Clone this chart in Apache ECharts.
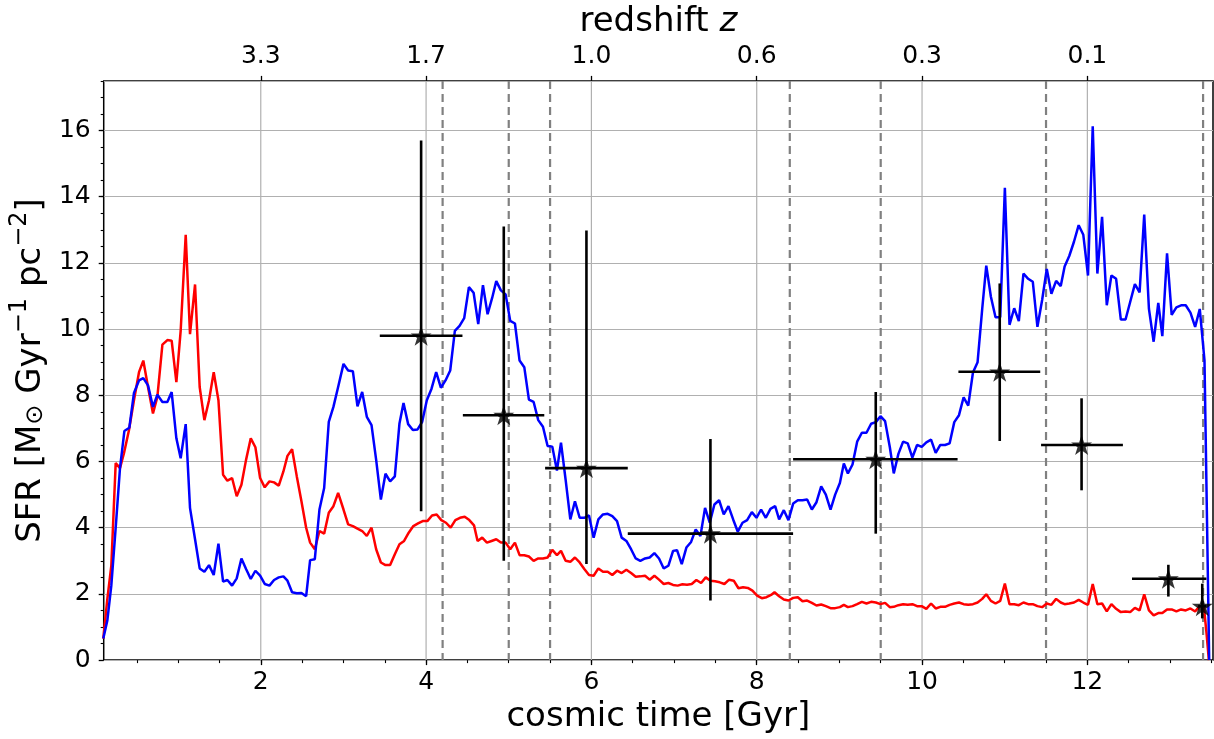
<!DOCTYPE html>
<html>
<head>
<meta charset="utf-8">
<script src="https://cdn.jsdelivr.net/npm/echarts@6/dist/echarts.min.js"></script>
<style>
html, body { margin: 0; padding: 0; background: #fff; }
#main { width: 1214px; height: 739px; }
</style>
</head>
<body>
<div id="main"></div>
<script>
var timeMin = 0.1, timeMax = 13.52;
var sfrMax = 17.5;

var timeTicks = [2, 4, 6, 8, 10, 12];
var redshiftLabels = ['3.3', '1.7', '1.0', '0.6', '0.3', '0.1'];
var snapshotLines = [4.2, 5.0, 5.5, 8.4, 9.5, 11.5, 13.4];

// blue run: [time Gyr, SFR]
var blueSfr = [
	[0.095, 0.65], [0.144, 1.2], [0.192, 2.25], [0.245, 4.0], [0.297, 5.8], [0.35, 6.92],
	[0.41, 7.02], [0.466, 8.07], [0.527, 8.45], [0.579, 8.52], [0.636, 8.3], [0.696, 7.65],
	[0.749, 8.02], [0.81, 7.8], [0.87, 7.8], [0.922, 8.1], [0.979, 6.7], [1.031, 6.1],
	[1.092, 7.13], [1.144, 4.6], [1.205, 3.65], [1.261, 2.77], [1.318, 2.67], [1.374, 2.87],
	[1.431, 2.57], [1.488, 3.52], [1.544, 2.37], [1.596, 2.42], [1.653, 2.25], [1.709, 2.47],
	[1.766, 3.07], [1.822, 2.75], [1.879, 2.45], [1.935, 2.7], [1.992, 2.55], [2.048, 2.3],
	[2.105, 2.25], [2.161, 2.42], [2.218, 2.5], [2.274, 2.53], [2.323, 2.4], [2.379, 2.05],
	[2.436, 2.02], [2.492, 2.03], [2.549, 1.93], [2.597, 3.02], [2.654, 3.05], [2.71, 4.55],
	[2.767, 5.2], [2.823, 7.2], [2.879, 7.65], [2.936, 8.25], [3.001, 8.95], [3.057, 8.75],
	[3.114, 8.73], [3.17, 7.67], [3.227, 8.1], [3.283, 7.35], [3.34, 7.1], [3.396, 6.05],
	[3.453, 4.85], [3.509, 5.63], [3.565, 5.4], [3.622, 5.55], [3.678, 7.15], [3.727, 7.77],
	[3.783, 7.13], [3.84, 6.95], [3.897, 6.97], [3.953, 7.2], [4.009, 7.85], [4.066, 8.2],
	[4.122, 8.7], [4.179, 8.23], [4.235, 8.45], [4.292, 8.75], [4.348, 9.95], [4.405, 10.1],
	[4.461, 10.33], [4.518, 11.27], [4.575, 11.1], [4.631, 10.15], [4.688, 11.33], [4.744, 10.45],
	[4.8, 10.95], [4.849, 11.45], [4.905, 11.17], [4.962, 11.05], [5.018, 10.25], [5.075, 10.17],
	[5.131, 9.05], [5.188, 8.85], [5.244, 7.87], [5.301, 7.8], [5.357, 7.25], [5.414, 7.05],
	[5.47, 6.47], [5.527, 6.45], [5.583, 5.73], [5.632, 6.57], [5.688, 5.45], [5.745, 4.25],
	[5.801, 4.8], [5.858, 4.3], [5.914, 4.3], [5.971, 4.37], [6.027, 3.7], [6.084, 4.25],
	[6.14, 4.4], [6.197, 4.42], [6.253, 4.35], [6.31, 4.2], [6.366, 3.7], [6.423, 3.6],
	[6.48, 3.35], [6.536, 3.07], [6.592, 3.0], [6.649, 3.07], [6.705, 3.1], [6.762, 3.23],
	[6.818, 3.07], [6.875, 2.77], [6.931, 2.85], [6.988, 3.3], [7.036, 3.32], [7.093, 2.9],
	[7.149, 3.4], [7.206, 3.57], [7.262, 3.95], [7.319, 3.75], [7.375, 4.6], [7.432, 4.15],
	[7.488, 4.7], [7.545, 4.83], [7.601, 4.4], [7.658, 4.65], [7.715, 4.25], [7.771, 3.88],
	[7.828, 4.15], [7.884, 4.23], [7.941, 4.47], [7.997, 4.3], [8.053, 4.55], [8.11, 4.3],
	[8.166, 4.57], [8.223, 4.65], [8.271, 4.25], [8.328, 4.53], [8.384, 4.23], [8.441, 4.73],
	[8.497, 4.83], [8.554, 4.83], [8.61, 4.85], [8.667, 4.55], [8.723, 4.77], [8.78, 5.25],
	[8.836, 5.0], [8.893, 4.55], [8.949, 5.0], [9.006, 5.35], [9.054, 5.94], [9.103, 5.64],
	[9.159, 5.91], [9.215, 6.6], [9.272, 6.87], [9.328, 6.87], [9.384, 7.14], [9.441, 7.19],
	[9.497, 7.37], [9.553, 7.22], [9.61, 6.44], [9.658, 5.64], [9.714, 6.23], [9.771, 6.6],
	[9.827, 6.55], [9.883, 6.12], [9.94, 6.5], [9.996, 6.44], [10.052, 6.58], [10.109, 6.66],
	[10.165, 6.26], [10.221, 6.5], [10.278, 6.5], [10.334, 6.55], [10.39, 7.19], [10.447, 7.4],
	[10.503, 7.94], [10.559, 7.69], [10.616, 8.69], [10.672, 9.0], [10.728, 10.61], [10.777, 11.92],
	[10.833, 10.98], [10.889, 10.36], [10.946, 10.36], [11.002, 14.27], [11.058, 10.13], [11.115, 10.63],
	[11.171, 10.24], [11.227, 11.68], [11.284, 11.52], [11.34, 11.43], [11.396, 10.07], [11.453, 10.88],
	[11.509, 11.82], [11.565, 11.07], [11.622, 11.46], [11.678, 11.3], [11.725, 11.89], [11.781, 12.21],
	[11.838, 12.64], [11.895, 13.14], [11.951, 12.85], [12.008, 11.62], [12.065, 16.13], [12.121, 11.68],
	[12.178, 13.39], [12.235, 10.72], [12.291, 11.62], [12.348, 11.52], [12.405, 10.29], [12.462, 10.29],
	[12.518, 10.82], [12.575, 11.36], [12.632, 11.11], [12.688, 13.46], [12.745, 10.61], [12.802, 9.62],
	[12.858, 10.79], [12.907, 9.79], [12.964, 12.29], [13.02, 10.43], [13.077, 10.66], [13.134, 10.72],
	[13.19, 10.72], [13.247, 10.5], [13.304, 10.07], [13.36, 10.61], [13.417, 9.06], [13.474, 0.0]
];

// red run: [time Gyr, SFR]
var redSfr = [
	[0.095, 0.65], [0.144, 1.85], [0.192, 2.85], [0.245, 5.95], [0.297, 5.8], [0.345, 6.25],
	[0.406, 6.95], [0.466, 7.85], [0.527, 8.7], [0.579, 9.05], [0.636, 8.25], [0.696, 7.45],
	[0.749, 7.95], [0.81, 9.53], [0.87, 9.67], [0.922, 9.65], [0.979, 8.4], [1.031, 9.95],
	[1.092, 12.85], [1.144, 9.85], [1.205, 11.35], [1.261, 8.25], [1.318, 7.25], [1.374, 7.85],
	[1.431, 8.7], [1.488, 7.85], [1.544, 5.6], [1.596, 5.42], [1.653, 5.5], [1.709, 4.95],
	[1.766, 5.3], [1.822, 6.05], [1.879, 6.7], [1.935, 6.43], [1.992, 5.5], [2.048, 5.22],
	[2.105, 5.4], [2.161, 5.37], [2.218, 5.27], [2.274, 5.7], [2.323, 6.17], [2.379, 6.37],
	[2.436, 5.55], [2.492, 4.8], [2.549, 4.0], [2.597, 3.55], [2.654, 3.35], [2.71, 3.9],
	[2.767, 3.82], [2.823, 4.45], [2.879, 4.65], [2.936, 5.05], [3.001, 4.55], [3.057, 4.1],
	[3.114, 4.05], [3.17, 3.97], [3.227, 3.9], [3.283, 3.75], [3.34, 4.0], [3.396, 3.35],
	[3.453, 2.95], [3.509, 2.87], [3.565, 2.87], [3.622, 3.2], [3.678, 3.5], [3.734, 3.6],
	[3.79, 3.85], [3.846, 4.05], [3.903, 4.13], [3.959, 4.2], [4.015, 4.2], [4.072, 4.37],
	[4.128, 4.4], [4.184, 4.23], [4.241, 4.15], [4.297, 4.0], [4.354, 4.23], [4.41, 4.3],
	[4.467, 4.33], [4.523, 4.23], [4.58, 4.07], [4.623, 3.6], [4.679, 3.7], [4.736, 3.55],
	[4.792, 3.6], [4.849, 3.65], [4.905, 3.55], [4.962, 3.55], [5.018, 3.35], [5.075, 3.55],
	[5.131, 3.17], [5.188, 3.17], [5.244, 3.13], [5.301, 3.0], [5.357, 3.07], [5.414, 3.07],
	[5.47, 3.1], [5.527, 3.33], [5.583, 3.17], [5.632, 3.3], [5.688, 3.0], [5.745, 2.97],
	[5.801, 3.1], [5.858, 2.95], [5.914, 2.75], [5.971, 2.57], [6.027, 2.55], [6.084, 2.77],
	[6.14, 2.67], [6.197, 2.67], [6.253, 2.57], [6.31, 2.7], [6.366, 2.63], [6.423, 2.73],
	[6.48, 2.63], [6.536, 2.52], [6.592, 2.53], [6.649, 2.55], [6.705, 2.43], [6.762, 2.55],
	[6.818, 2.43], [6.875, 2.3], [6.931, 2.33], [6.988, 2.27], [7.044, 2.25], [7.101, 2.29],
	[7.157, 2.28], [7.214, 2.3], [7.27, 2.42], [7.327, 2.33], [7.383, 2.5], [7.44, 2.4],
	[7.496, 2.38], [7.553, 2.35], [7.609, 2.3], [7.666, 2.43], [7.722, 2.4], [7.779, 2.17],
	[7.835, 2.2], [7.892, 2.18], [7.948, 2.1], [8.005, 1.95], [8.061, 1.87], [8.118, 1.9],
	[8.174, 1.97], [8.215, 2.05], [8.271, 1.93], [8.328, 1.83], [8.384, 1.8], [8.441, 1.88],
	[8.497, 1.9], [8.554, 1.78], [8.61, 1.8], [8.667, 1.73], [8.723, 1.65], [8.78, 1.68],
	[8.836, 1.63], [8.893, 1.57], [8.949, 1.57], [9.006, 1.6], [9.054, 1.67], [9.103, 1.6],
	[9.159, 1.63], [9.215, 1.69], [9.272, 1.76], [9.328, 1.71], [9.384, 1.76], [9.441, 1.74],
	[9.497, 1.69], [9.553, 1.73], [9.61, 1.6], [9.658, 1.61], [9.714, 1.66], [9.771, 1.69],
	[9.827, 1.67], [9.883, 1.69], [9.94, 1.63], [9.996, 1.63], [10.052, 1.55], [10.109, 1.71],
	[10.165, 1.56], [10.221, 1.61], [10.278, 1.61], [10.334, 1.67], [10.39, 1.71], [10.447, 1.74],
	[10.503, 1.69], [10.559, 1.67], [10.616, 1.69], [10.672, 1.74], [10.728, 1.85], [10.777, 1.99],
	[10.833, 1.79], [10.889, 1.71], [10.946, 1.79], [11.002, 2.31], [11.058, 1.69], [11.115, 1.69],
	[11.171, 1.66], [11.227, 1.74], [11.284, 1.69], [11.34, 1.69], [11.396, 1.63], [11.453, 1.6],
	[11.509, 1.71], [11.565, 1.67], [11.622, 1.85], [11.678, 1.74], [11.725, 1.69], [11.781, 1.71],
	[11.838, 1.74], [11.895, 1.82], [11.951, 1.74], [12.008, 1.67], [12.065, 2.3], [12.121, 1.69],
	[12.178, 1.71], [12.235, 1.47], [12.291, 1.69], [12.348, 1.55], [12.405, 1.45], [12.462, 1.47],
	[12.518, 1.45], [12.575, 1.58], [12.632, 1.5], [12.688, 1.99], [12.745, 1.5], [12.802, 1.35],
	[12.858, 1.42], [12.907, 1.42], [12.964, 1.53], [13.02, 1.53], [13.077, 1.47], [13.134, 1.53],
	[13.19, 1.5], [13.247, 1.56], [13.304, 1.47], [13.36, 1.63], [13.409, 1.63], [13.441, 0.83],
	[13.47, 0.0]
];

// observed points with error bars
var obsTime   = [3.94, 4.94, 5.94, 7.44, 9.44, 10.94, 11.93, 12.98, 13.39];
var obsSfr    = [9.8, 7.4, 5.8, 3.82, 6.07, 8.71, 6.5, 2.46, 1.63];
var obsTimeLo = [3.44, 4.445, 5.44, 6.44, 8.44, 10.44, 11.44, 12.54, 13.34];
var obsTimeHi = [4.44, 5.43, 6.44, 8.44, 10.43, 11.43, 12.43, 13.44, 13.44];
var obsSfrLo  = [4.5, 3.0, 2.9, 1.8, 3.82, 6.62, 5.13, 1.92, 1.26];
var obsSfrHi  = [15.7, 13.1, 12.98, 6.68, 8.1, 11.38, 7.91, 2.88, 2.31];

var obsRows = [];
for (var i = 0; i < obsTime.length; i++) {
	obsRows.push([obsTime[i], obsSfr[i], obsTimeLo[i], obsTimeHi[i], obsSfrLo[i], obsSfrHi[i]]);
}

var minorX = [];
for (var m = 0.5; m <= 13.5; m += 0.5) minorX.push(m);
var minorY = [];
for (var n = 0.5; n <= 17.5; n += 0.5) minorY.push(n);

var font = 'DejaVu Sans';
var starPath = 'path://M10 0 L12.245 6.91 L19.511 6.91 L13.633 11.18 L15.878 18.09 L10 13.82 L4.122 18.09 L6.367 11.18 L0.489 6.91 L7.755 6.91 Z';

function vLine(color, width, dash) {
	return function (params, api) {
		var top = api.coord([api.value(0), sfrMax]);
		var bot = api.coord([api.value(0), 0]);
		return {
			type: 'line',
			shape: { x1: top[0], y1: top[1], x2: bot[0], y2: bot[1] },
			style: { stroke: color, lineWidth: width, lineDash: dash }
		};
	};
}

var myChart = echarts.init(document.getElementById('main'));
var option = {
	animation: false,
	backgroundColor: '#fff',
	grid: {
		left: 103, right: 1, top: 78, bottom: 77,
		show: true, borderColor: '#000', borderWidth: 1.5, backgroundColor: 'transparent'
	},
	xAxis: [{
		type: 'value',
		position: 'bottom',
		min: timeMin, max: timeMax,
		name: 'cosmic time [Gyr]',
		nameLocation: 'middle',
		nameGap: 39,
		nameTextStyle: { fontFamily: font, fontSize: 34, color: '#000' },
		axisLine: { show: false },
		axisTick: { show: true, customValues: timeTicks, length: 5, lineStyle: { color: '#000', width: 1.3 } },
		axisLabel: { customValues: timeTicks, margin: 10, fontFamily: font, fontSize: 25, color: '#000' },
		splitLine: { show: false }
	}, {
		type: 'value',
		position: 'bottom',
		min: timeMin, max: timeMax,
		axisLine: { show: false },
		axisTick: { show: true, customValues: minorX, length: 3, lineStyle: { color: '#000', width: 1.1 } },
		axisLabel: { show: false },
		splitLine: { show: false }
	}, {
		type: 'value',
		position: 'top',
		min: timeMin, max: timeMax,
		name: '{n|redshift }{i|z}',
		nameLocation: 'middle',
		nameGap: 37,
		nameTextStyle: {
			rich: {
				n: { fontFamily: font, fontSize: 34, color: '#000' },
				i: { fontFamily: font, fontSize: 34, color: '#000', fontStyle: 'italic' }
			}
		},
		axisLine: { show: false },
		axisTick: { show: true, customValues: timeTicks, length: 5, lineStyle: { color: '#000', width: 1.3 } },
		axisLabel: {
			customValues: timeTicks, margin: 12, fontFamily: font, fontSize: 25, color: '#000',
			formatter: function (v) { return redshiftLabels[timeTicks.indexOf(Math.round(v))]; }
		},
		splitLine: { show: false }
	}],
	yAxis: [{
		type: 'value',
		position: 'left',
		min: 0, max: sfrMax, interval: 2,
		name: '{a|SFR [M}{s|⊙}{a| Gyr}{p|−1}{a| pc}{p|−2}{a|]}',
		nameLocation: 'middle',
		nameGap: 52,
		nameTextStyle: {
			rich: {
				a: { fontFamily: font, fontSize: 34, color: '#000', lineHeight: 40, verticalAlign: 'bottom' },
				s: { fontFamily: font, fontSize: 24, color: '#000', lineHeight: 24, verticalAlign: 'bottom' },
				p: { fontFamily: font, fontSize: 24, color: '#000', lineHeight: 24, verticalAlign: 'top' }
			}
		},
		axisLine: { show: false },
		axisTick: { show: true, length: 5, lineStyle: { color: '#000', width: 1.3 } },
		axisLabel: { margin: 13, showMaxLabel: false, fontFamily: font, fontSize: 25, color: '#000' },
		splitLine: { show: true, lineStyle: { color: '#b0b0b0', width: 1.2 } }
	}, {
		type: 'value',
		position: 'left',
		min: 0, max: sfrMax,
		axisLine: { show: false },
		axisTick: { show: true, customValues: minorY, length: 3, lineStyle: { color: '#000', width: 1.1 } },
		axisLabel: { show: false },
		splitLine: { show: false }
	}],
	series: [{
		// vertical grid lines
		type: 'custom',
		silent: true,
		z: 1,
		renderItem: vLine('#b0b0b0', 1.2, null),
		data: timeTicks.map(function (t) { return [t]; }),
		encode: { x: 0 }
	}, {
		// snapshot markers
		type: 'custom',
		silent: true,
		z: 1,
		renderItem: vLine('#808080', 2.2, [8, 5]),
		data: snapshotLines.map(function (t) { return [t]; }),
		encode: { x: 0 }
	}, {
		type: 'line',
		data: redSfr,
		showSymbol: false,
		clip: true,
		z: 3,
		lineStyle: { color: '#ff0000', width: 2.5 }
	}, {
		type: 'line',
		data: blueSfr,
		showSymbol: false,
		clip: true,
		z: 4,
		lineStyle: { color: '#0000ff', width: 2.5 }
	}, {
		type: 'custom',
		z: 5,
		data: obsRows,
		encode: { x: 0, y: 1 },
		renderItem: function (params, api) {
			var l = api.coord([api.value(2), api.value(1)]);
			var r = api.coord([api.value(3), api.value(1)]);
			var lo = api.coord([api.value(0), api.value(4)]);
			var hi = api.coord([api.value(0), api.value(5)]);
			var st = { stroke: '#000', lineWidth: 2.6 };
			return {
				type: 'group',
				children: [
					{ type: 'line', shape: { x1: l[0], y1: l[1], x2: r[0], y2: r[1] }, style: st },
					{ type: 'line', shape: { x1: lo[0], y1: lo[1], x2: hi[0], y2: hi[1] }, style: st }
				]
			};
		}
	}, {
		type: 'scatter',
		z: 6,
		data: obsRows.map(function (row) { return [row[0], row[1]]; }),
		symbol: starPath,
		symbolSize: 21,
		symbolKeepAspect: true,
		itemStyle: { color: '#000' }
	}]
};
myChart.setOption(option);
window.onresize = myChart.resize;
</script>
</body>
</html>
